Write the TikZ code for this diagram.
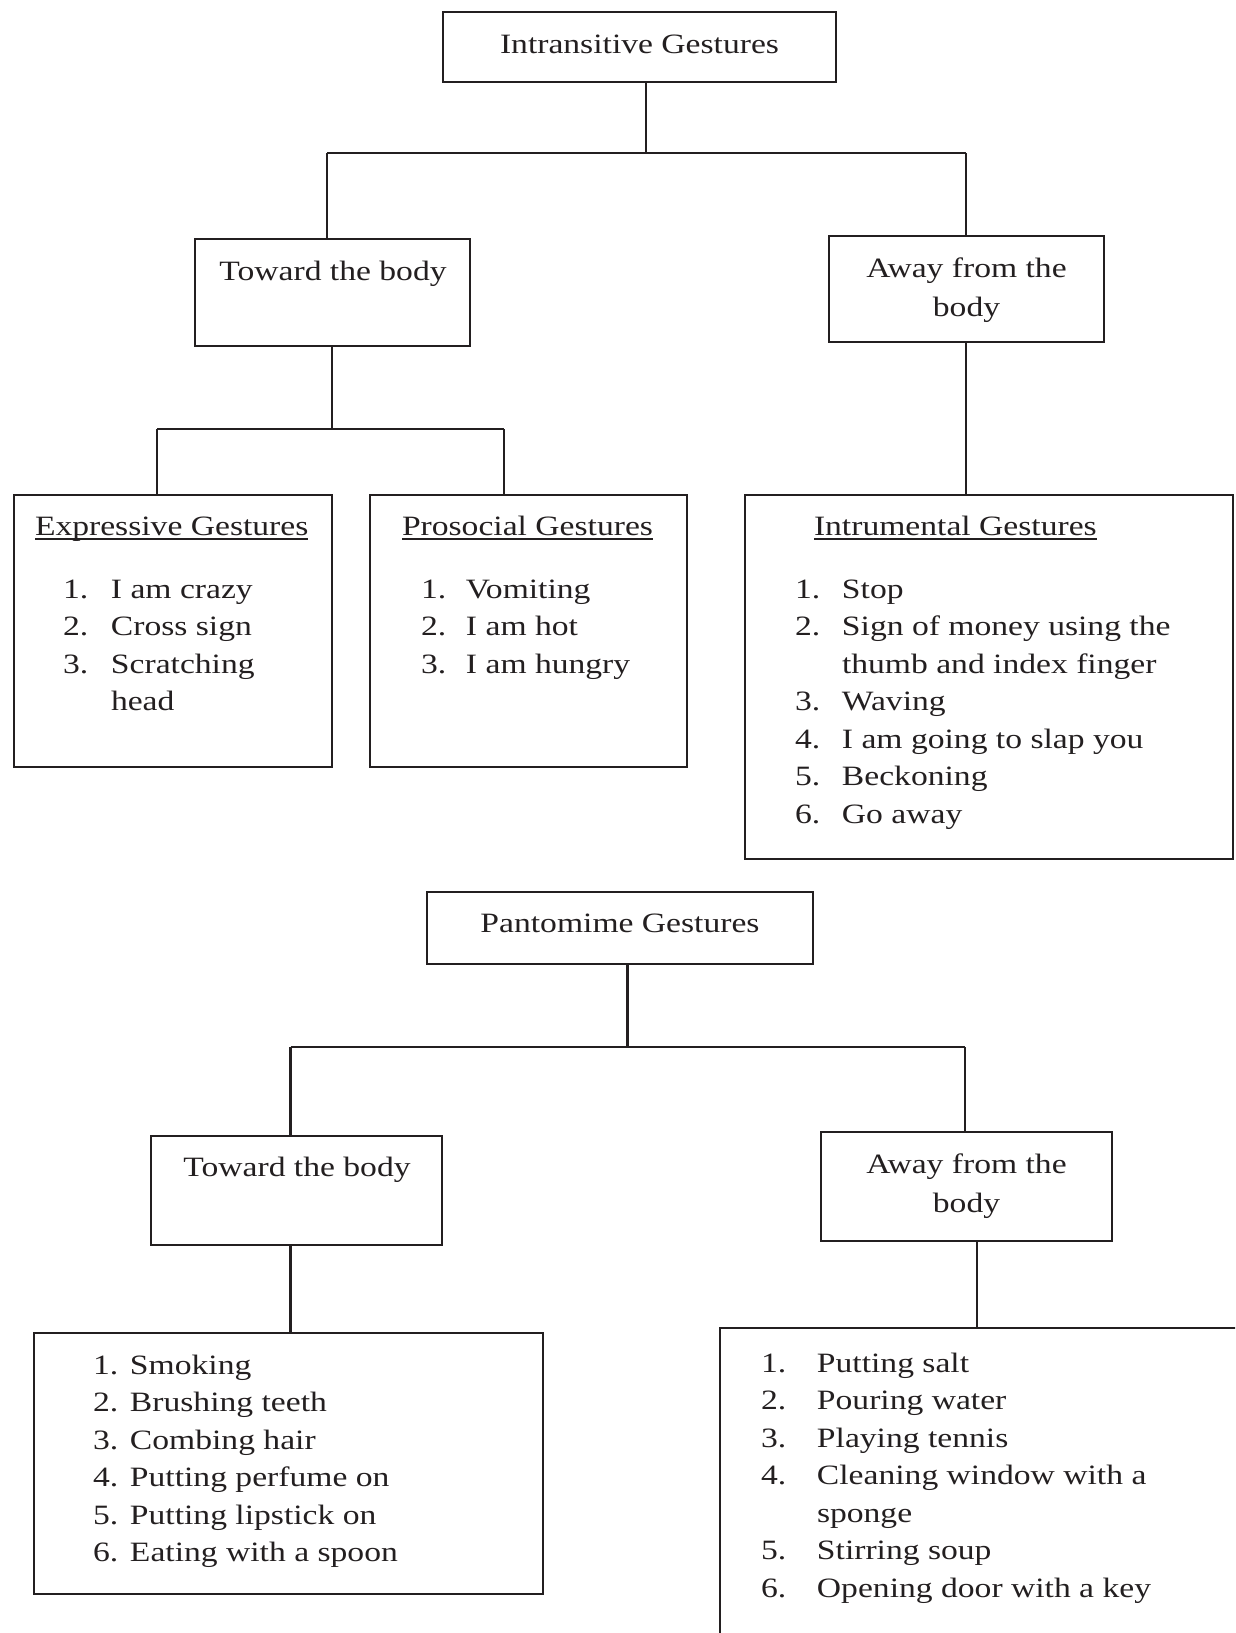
\documentclass[tikz,border=0pt]{standalone}
\usepackage{fontspec}
\setmainfont[FakeStretch=1.2]{Liberation Serif}
\definecolor{txt}{HTML}{231F20}
\newcommand\lstrow[3]{\makebox[#1pt][l]{#2}#3\\}
\newcommand\bx[5]{\node[box,anchor=north west,minimum width={(#4-#2)*1pt},minimum height={(#5-#3)*1pt}] (#1) at (#2,#3) {};}
\tikzset{
  box/.style={draw=txt,line width=2.6pt,inner sep=0pt,outer sep=0pt},
  conn/.style={draw=txt,line width=2.1pt},
  bus/.style={draw=txt,line width=2.5pt},
  lbl/.style={text=txt,inner sep=0pt,outer sep=0pt,font=\fontsize{28}{37.5}\selectfont},
  lbl2/.style={text=txt,inner sep=0pt,outer sep=0pt,font=\fontsize{28}{39.5}\selectfont},
  uline/.style={draw=txt,line width=1.8pt}
}
\begin{document}
\begin{tikzpicture}[x=1pt,y=-1pt]
\fill[white] (0,0) rectangle (1235,1633);
\useasboundingbox (0,0) rectangle (1235,1633);
\clip (0,0) rectangle (1235,1633);

% ---------- Intransitive tree ----------
\bx{intr}{443}{12}{836}{82}
\node[lbl,anchor=base] (intrT) at (639.5,53) {Intransitive Gestures};

\bx{tw1}{195}{239}{470}{346}
\node[lbl,anchor=base] (tw1T) at (333,280) {Toward the body};

\bx{aw1}{829}{236}{1104}{342}
\node[lbl2,anchor=base] (aw1T) at (966.5,277) {\begin{tabular}[t]{@{}c@{}}Away from the\\ body\end{tabular}};

\bx{expr}{14}{495}{332}{767}
\node[lbl,anchor=base west] (exprH) at (35,535) {Expressive Gestures};
\draw[uline] ([yshift=-4pt]exprH.base west) -- ([yshift=-4pt]exprH.base east);
\node[lbl,anchor=base west] (exprL) at (63,598) {\begin{tabular}[t]{@{}l@{}}%
\lstrow{48}{1.}{I am crazy}%
\lstrow{48}{2.}{Cross sign}%
\lstrow{48}{3.}{Scratching}%
\lstrow{48}{}{head}%
\end{tabular}};

\bx{pros}{370}{495}{687}{767}
\node[lbl,anchor=base west] (prosH) at (402,535) {Prosocial Gestures};
\draw[uline] ([yshift=-4pt]prosH.base west) -- ([yshift=-4pt]prosH.base east);
\node[lbl,anchor=base west] (prosL) at (421,598) {\begin{tabular}[t]{@{}l@{}}%
\lstrow{45}{1.}{Vomiting}%
\lstrow{45}{2.}{I am hot}%
\lstrow{45}{3.}{I am hungry}%
\end{tabular}};

\bx{instr}{745}{495}{1233}{859}
\node[lbl,anchor=base west] (instrH) at (814,535) {Intrumental Gestures};
\draw[uline] ([yshift=-4pt]instrH.base west) -- ([yshift=-4pt]instrH.base east);
\node[lbl,anchor=base west] (instrL) at (795,598) {\begin{tabular}[t]{@{}l@{}}%
\lstrow{47}{1.}{Stop}%
\lstrow{47}{2.}{Sign of money using the}%
\lstrow{47}{}{thumb and index finger}%
\lstrow{47}{3.}{Waving}%
\lstrow{47}{4.}{I am going to slap you}%
\lstrow{47}{5.}{Beckoning}%
\lstrow{47}{6.}{Go away}%
\end{tabular}};

% connectors (top)
\coordinate (j1) at (646,153);
\coordinate (j1l) at (327,153);
\coordinate (j1r) at (966,153);
\draw[conn] (j1 |- intr.south) -- (j1);
\draw[bus] (j1l) -- (j1r);
\draw[conn] (j1l) -- (j1l |- tw1.north);
\draw[conn] (j1r) -- (j1r |- aw1.north);
\coordinate (j2) at (332,429);
\coordinate (j2l) at (157,429);
\coordinate (j2r) at (504,429);
\draw[conn] (j2 |- tw1.south) -- (j2);
\draw[bus] (j2l) -- (j2r);
\draw[conn] (j2l) -- (j2l |- expr.north);
\draw[conn] (j2r) -- (j2r |- pros.north);
\draw[conn] (j1r |- aw1.south) -- (j1r |- instr.north);

% ---------- Pantomime tree ----------
\bx{pant}{427}{892}{813}{964}
\node[lbl,anchor=base] (pantT) at (620,932) {Pantomime Gestures};

\bx{tw2}{151}{1136}{442}{1245}
\node[lbl,anchor=base] (tw2T) at (297,1176) {Toward the body};

\bx{aw2}{821}{1132}{1112}{1241}
\node[lbl2,anchor=base] (aw2T) at (966.5,1173) {\begin{tabular}[t]{@{}c@{}}Away from the\\ body\end{tabular}};

\bx{lst1}{34}{1333}{543}{1594}
\node[lbl,anchor=base west] (lst1L) at (93,1374) {\begin{tabular}[t]{@{}l@{}}%
\lstrow{37}{1.}{Smoking}%
\lstrow{37}{2.}{Brushing teeth}%
\lstrow{37}{3.}{Combing hair}%
\lstrow{37}{4.}{Putting perfume on}%
\lstrow{37}{5.}{Putting lipstick on}%
\lstrow{37}{6.}{Eating with a spoon}%
\end{tabular}};

\bx{lst2}{720}{1328}{1260}{1660}
\node[lbl,anchor=base west] (lst2L) at (761,1372) {\begin{tabular}[t]{@{}l@{}}%
\lstrow{56}{1.}{Putting salt}%
\lstrow{56}{2.}{Pouring water}%
\lstrow{56}{3.}{Playing tennis}%
\lstrow{56}{4.}{Cleaning window with a}%
\lstrow{56}{}{sponge}%
\lstrow{56}{5.}{Stirring soup}%
\lstrow{56}{6.}{Opening door with a key}%
\end{tabular}};

% connectors (bottom)
\coordinate (j3) at (627.5,1047);
\coordinate (j3l) at (290.5,1047);
\coordinate (j3r) at (965,1047);
\draw[conn] (j3 |- pant.south) -- (j3);
\draw[bus] (j3l) -- (j3r);
\draw[conn] (j3l) -- (j3l |- tw2.north);
\draw[conn] (j3r) -- (j3r |- aw2.north);
\coordinate (k1) at (977,1240);
\draw[conn] (j3l |- tw2.south) -- (j3l |- lst1.north);
\draw[conn] (k1 |- aw2.south) -- (k1 |- lst2.north);
\end{tikzpicture}
\end{document}
